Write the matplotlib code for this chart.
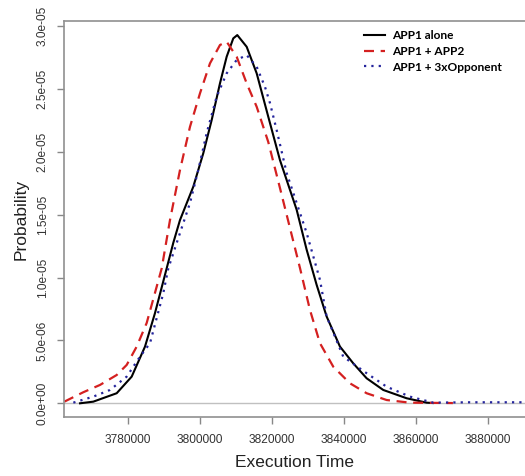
import matplotlib
matplotlib.use('Agg')
import matplotlib.pyplot as plt

# execution time (x) and density (y, in units of 1e-5)
alone_x = [3766750, 3770440, 3776940, 3781110, 3784810, 3787580, 3790830, 3792670,
           3794530, 3798220, 3801000, 3803340, 3805640, 3807500, 3809340, 3810450,
           3813060, 3815840, 3819060, 3822310, 3826950, 3829730, 3832500, 3835280,
           3838980, 3842670, 3846390, 3851010, 3857510, 3863060, 3864800]
alone_y = [0.0, 0.013, 0.080, 0.212, 0.451, 0.717, 1.073, 1.276,
           1.457, 1.722, 1.988, 2.253, 2.544, 2.756, 2.902, 2.928,
           2.835, 2.624, 2.279, 1.934, 1.539, 1.221, 0.942, 0.690,
           0.451, 0.318, 0.199, 0.106, 0.040, 0.005, 0.002]

app2_x = [3762390, 3767670, 3772310, 3776940, 3779720, 3782500, 3785280, 3788060,
          3789450, 3791750, 3794530, 3797310, 3800090, 3802860, 3805640, 3807500,
          3810280, 3813060, 3815840, 3819060, 3822310, 3825090, 3827870, 3830640,
          3833420, 3837120, 3841760, 3846390, 3851950, 3858420, 3870370]
app2_y = [0.013, 0.088, 0.146, 0.225, 0.305, 0.451, 0.639, 0.928,
          1.073, 1.457, 1.855, 2.199, 2.465, 2.703, 2.849, 2.875,
          2.756, 2.544, 2.358, 2.078, 1.712, 1.394, 1.076, 0.743,
          0.478, 0.291, 0.159, 0.080, 0.026, 0.005, 0.002]

opp_x = [3764890, 3770440, 3775080, 3779720, 3783420, 3786200, 3789890, 3791280,
         3794530, 3797310, 3799610, 3801950, 3804720, 3807500, 3810280, 3813060,
         3815840, 3818140, 3819530, 3821390, 3824170, 3829730, 3833420, 3835280,
         3839890, 3846390, 3851950, 3858420, 3864900, 3875000, 3890400]
opp_y = [0.005, 0.053, 0.106, 0.212, 0.371, 0.478, 0.876, 1.073,
         1.354, 1.593, 1.855, 2.149, 2.438, 2.624, 2.730, 2.769,
         2.676, 2.517, 2.388, 2.173, 1.831, 1.354, 0.982, 0.690,
         0.371, 0.239, 0.132, 0.053, 0.005, 0.008, 0.008]

labels = ['APP1 alone', 'APP1 + APP2', 'APP1 + 3xOpponent']
x_ticks = [3780000, 3800000, 3820000, 3840000, 3860000, 3880000]
y_ticks = [0, 5e-6, 1e-5, 1.5e-5, 2e-5, 2.5e-5, 3e-5]
y_tick_labels = ['0.0e+00', '5.0e-06', '1.0e-05', '1.5e-05', '2.0e-05', '2.5e-05', '3.0e-05']

plt.rcParams['font.family'] = ['Liberation Sans', 'DejaVu Sans']

fig = plt.figure(figsize=(5.25, 4.76), dpi=100)
ax = fig.add_axes([64 / 525, 1 - 417 / 476, 1 - 64 / 525, (417 - 21) / 476])

ax.axhline(0, color='#c0c0c0', lw=1, zorder=1)
ax.plot(alone_x, [v * 1e-5 for v in alone_y], color='black', lw=1.5, label=labels[0])
ax.plot(app2_x, [v * 1e-5 for v in app2_y], color='#d42020', lw=1.6,
        dashes=(4.5, 3), label=labels[1])
ax.plot(opp_x, [v * 1e-5 for v in opp_y], color='#24249c', lw=1.6,
        dashes=(1, 2.3), label=labels[2])

ax.set_xlim(3762300, 3890400)
ax.set_ylim(-1.09e-6, 3.04e-5)

ax.set_xticks(x_ticks)
ax.set_xticklabels([str(t) for t in x_ticks])
ax.set_yticks(y_ticks)
ax.set_yticklabels(y_tick_labels, rotation=90, va='center')
ax.tick_params(axis='both', colors='#888888', labelcolor='#333333', labelsize=8.6,
               length=5, width=1, direction='out')
ax.tick_params(axis='x', pad=7)
ax.tick_params(axis='y', pad=6)

for s in ['left', 'top', 'bottom']:
    ax.spines[s].set_color('#909090')
    ax.spines[s].set_linewidth(1.2)
ax.spines['right'].set_visible(False)

ax.set_xlabel('Execution Time', fontsize=12.5, color='#222222', labelpad=7)
ax.set_ylabel('Probability', fontsize=12.5, color='#222222', labelpad=6)

leg = ax.legend(loc='upper left', bbox_to_anchor=(358 / 525, 1 - 24 / 476),
                bbox_transform=fig.transFigure, frameon=False, borderpad=0,
                handlelength=1.8, handletextpad=0.55, labelspacing=0.4,
                prop={'family': ['Lato', 'DejaVu Sans'], 'weight': 'bold', 'size': 8.6})

plt.savefig('out.png', dpi=100)
